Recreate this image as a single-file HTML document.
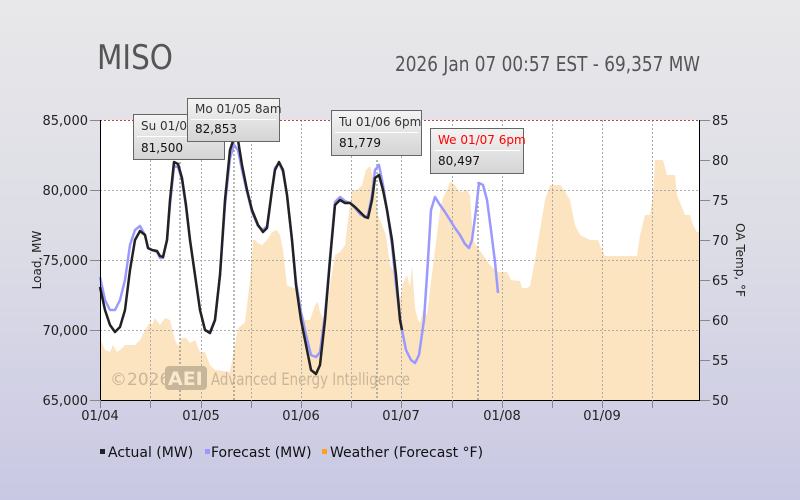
<!DOCTYPE html>
<html><head><meta charset="utf-8"><style>
html,body{margin:0;padding:0;width:800px;height:500px;overflow:hidden}
body{background:linear-gradient(#e8e8ea,#dcdce6 50%,#c9c8e4);font-family:"DejaVu Sans","Liberation Sans",sans-serif}
svg text{font-family:"DejaVu Sans","Liberation Sans",sans-serif}
</style></head><body>
<svg width="800" height="500" viewBox="0 0 800 500" xmlns="http://www.w3.org/2000/svg">
<defs>
<linearGradient id="tt" x1="0" y1="0" x2="0" y2="1"><stop offset="0" stop-color="#f4f4f4"/><stop offset="1" stop-color="#d4d4d4"/></linearGradient>
</defs>
<text x="97" y="69" font-size="34" fill="#555" textLength="76" lengthAdjust="spacingAndGlyphs">MISO</text>
<text x="395" y="71" font-size="20" fill="#555" textLength="305" lengthAdjust="spacingAndGlyphs">2026 Jan 07 00:57 EST - 69,357 MW</text>
<rect x="100" y="120" width="600" height="280" fill="#fff"/>
<polygon fill="#fde4c0" points="100,400 100,338 105,350 110,352 113,345 117,352 120,350 125,345 135,345 140,340 145,330 150,322 152,325 155,318 160,325 165,318 170,320 175,340 178,346 182,338 186,338 190,343 195,340 200,352 205,352 210,365 215,370 230,372 235,345 238,328 242,325 245,322 250,280 253,240 255,240 258,243 262,245 267,240 272,232 277,230 280,235 283,250 287,285 290,287 295,288 298,300 301,310 305,320 310,320 315,305 318,302 320,312 324,320 327,312 330,285 335,255 340,252 345,245 348,220 352,190 357,190 362,185 366,170 370,166 375,185 378,215 382,225 386,235 390,265 393,270 396,280 400,300 403,283 407,275 410,287 412,265 415,308 418,320 420,323 423,310 427,315 430,290 435,250 440,210 443,198 447,190 450,182 452,183 455,185 458,190 461,192 467,190 470,195 473,240 478,248 483,255 490,265 495,270 498,272 507,272 511,280 520,281 522,288 527,288 530,286 535,260 540,230 545,200 550,185 560,185 564,190 570,200 575,225 580,235 590,240 598,240 602,250 605,256 637,256 640,235 645,215 650,215 653,195 655,160 663,160 667,175 675,175 677,195 685,215 690,215 693,225 697,232 700,232 700,400"/>
<g stroke="#aaa" stroke-dasharray="2,2" stroke-width="1">
<line x1="100" y1="190.5" x2="700" y2="190.5"/><line x1="100" y1="260.5" x2="700" y2="260.5"/><line x1="100" y1="330.5" x2="700" y2="330.5"/>
<line x1="150.5" y1="120" x2="150.5" y2="400"/><line x1="201.5" y1="120" x2="201.5" y2="400"/><line x1="251.5" y1="120" x2="251.5" y2="400"/><line x1="301.5" y1="120" x2="301.5" y2="400"/><line x1="351.5" y1="120" x2="351.5" y2="400"/><line x1="401.5" y1="120" x2="401.5" y2="400"/><line x1="452.5" y1="120" x2="452.5" y2="400"/><line x1="502.5" y1="120" x2="502.5" y2="400"/><line x1="552.5" y1="120" x2="552.5" y2="400"/><line x1="602.5" y1="120" x2="602.5" y2="400"/><line x1="652.5" y1="120" x2="652.5" y2="400"/>
</g>
<line x1="100" y1="120.5" x2="700" y2="120.5" stroke="#b44" stroke-dasharray="2,2"/>
<g stroke="#888" stroke-dasharray="2,2" stroke-width="1.2">
<line x1="180" y1="162" x2="180" y2="400"/><line x1="234" y1="138" x2="234" y2="400"/><line x1="377" y1="160" x2="377" y2="400"/><line x1="478" y1="182" x2="478" y2="400"/>
</g>
<text x="110" y="385" font-size="17" fill="#c8b69a">©2026</text>
<rect x="165" y="366" width="42" height="24" rx="4" fill="#c8b69a"/>
<text x="168" y="385" font-size="19" fill="#fbe7cc" font-weight="bold">AEI</text>
<text x="211" y="385" font-size="17" fill="#c8b69a" textLength="199" lengthAdjust="spacingAndGlyphs">Advanced Energy Intelligence</text>
<polyline fill="none" stroke="#9999ff" stroke-width="2.5" stroke-linejoin="round" points="100,277 105,300 110,310 115,310 120,300 125,280 130,245 135,230 140,226 145,235 148,248 152,250 157,252 160,258 163,258 167,240 170,205 174,166 178,167 182,180 186,207 190,240 195,275 200,310 205,330 210,332 215,320 220,275 225,205 230,158 234,145 238,150 242,170 247,192 252,212 258,226 263,230 267,226 272,190 275,168 279,163 283,172 287,195 292,240 296,282 301,312 306,335 311,355 316,357 320,352 325,315 330,258 335,202 340,197 345,201 350,203 355,208 360,214 365,217 368,215 372,195 375,170 379,165 383,185 387,210 392,245 396,285 400,318 402,330 406,350 411,360 415,363 419,355 424,320 428,260 431,210 435,197 440,205 445,212 450,220 455,228 460,235 465,244 469,248 472,240 476,210 479,183 483,185 487,200 491,230 495,262 498,293"/>
<polyline fill="none" stroke="#222" stroke-width="2.5" stroke-linejoin="round" points="100,287 105,310 110,325 115,332 120,327 125,310 130,270 135,240 140,231 145,235 148,248 152,250 157,251 160,256 163,257 167,240 170,200 174,162 178,164 182,178 186,205 190,240 195,275 200,310 205,330 210,333 215,320 220,275 225,200 230,150 234,138 238,140 242,165 247,190 252,210 258,225 263,232 267,228 272,190 275,170 279,162 283,170 287,195 292,240 296,285 301,320 306,345 311,370 316,374 320,365 325,320 330,260 335,205 340,200 345,203 350,203 355,207 360,212 365,217 368,218 372,200 375,178 379,175 383,190 387,210 392,240 396,275 400,320 402,330"/>
<line x1="100.5" y1="120" x2="100.5" y2="400" stroke="#000"/>
<line x1="699.5" y1="120" x2="699.5" y2="400" stroke="#000"/>
<line x1="100" y1="400.5" x2="700" y2="400.5" stroke="#000"/>
<g stroke="#888">
<line x1="90" y1="120.5" x2="100" y2="120.5"/><line x1="90" y1="190.5" x2="100" y2="190.5"/><line x1="90" y1="260.5" x2="100" y2="260.5"/><line x1="90" y1="330.5" x2="100" y2="330.5"/><line x1="90" y1="400.5" x2="100" y2="400.5"/>
<line x1="700" y1="120.5" x2="710" y2="120.5"/><line x1="700" y1="160.5" x2="710" y2="160.5"/><line x1="700" y1="200.5" x2="710" y2="200.5"/><line x1="700" y1="240.5" x2="710" y2="240.5"/><line x1="700" y1="280.5" x2="710" y2="280.5"/><line x1="700" y1="320.5" x2="710" y2="320.5"/><line x1="700" y1="360.5" x2="710" y2="360.5"/><line x1="700" y1="400.5" x2="710" y2="400.5"/>
<line x1="100.5" y1="400" x2="100.5" y2="408"/><line x1="150.5" y1="400" x2="150.5" y2="408"/><line x1="201.5" y1="400" x2="201.5" y2="408"/><line x1="251.5" y1="400" x2="251.5" y2="408"/><line x1="301.5" y1="400" x2="301.5" y2="408"/><line x1="351.5" y1="400" x2="351.5" y2="408"/><line x1="401.5" y1="400" x2="401.5" y2="408"/><line x1="452.5" y1="400" x2="452.5" y2="408"/><line x1="502.5" y1="400" x2="502.5" y2="408"/><line x1="552.5" y1="400" x2="552.5" y2="408"/><line x1="602.5" y1="400" x2="602.5" y2="408"/><line x1="652.5" y1="400" x2="652.5" y2="408"/>
</g>
<g font-size="13" fill="#222" text-anchor="end">
<text x="88" y="125">85,000</text><text x="88" y="195">80,000</text><text x="88" y="265">75,000</text><text x="88" y="335">70,000</text><text x="88" y="405">65,000</text>
</g>
<g font-size="13" fill="#222">
<text x="712" y="125">85</text><text x="712" y="165">80</text><text x="712" y="205">75</text><text x="712" y="245">70</text><text x="712" y="285">65</text><text x="712" y="325">60</text><text x="712" y="365">55</text><text x="712" y="405">50</text>
</g>
<g font-size="13" fill="#222" text-anchor="middle">
<text x="100" y="420">01/04</text><text x="201" y="420">01/05</text><text x="301" y="420">01/06</text><text x="401" y="420">01/07</text><text x="502" y="420">01/08</text><text x="602" y="420">01/09</text>
</g>
<text transform="translate(41,260) rotate(-90)" font-size="12" fill="#222" text-anchor="middle">Load, MW</text>
<text transform="translate(736,260) rotate(90)" font-size="12" fill="#222" text-anchor="middle">OA Temp, °F</text>
<g font-size="12">
<rect x="133.5" y="114.5" width="91" height="45" fill="url(#tt)" stroke="#666"/>
<line x1="137" y1="136.5" x2="221" y2="136.5" stroke="#fff"/>
<text x="141" y="130" fill="#333">Su 01/04 4pm</text><text x="141" y="152" fill="#111">81,500</text>
<rect x="187.5" y="98.5" width="92" height="43" fill="url(#tt)" stroke="#666"/>
<line x1="191" y1="119.5" x2="276" y2="119.5" stroke="#fff"/>
<text x="195" y="113" fill="#333">Mo 01/05 8am</text><text x="195" y="133" fill="#111">82,853</text>
<rect x="331.5" y="110.5" width="90" height="45" fill="url(#tt)" stroke="#666"/>
<line x1="335" y1="132.5" x2="418" y2="132.5" stroke="#fff"/>
<text x="339" y="126" fill="#333">Tu 01/06 6pm</text><text x="339" y="147" fill="#111">81,779</text>
<rect x="430.5" y="128.5" width="93" height="45" fill="url(#tt)" stroke="#666"/>
<line x1="434" y1="150.5" x2="520" y2="150.5" stroke="#fff"/>
<text x="438" y="144" fill="#f00">We 01/07 6pm</text><text x="438" y="165" fill="#111">80,497</text>
</g>
<g font-size="14" fill="#111">
<rect x="100" y="449" width="5" height="5" fill="#222"/><text x="108" y="457">Actual (MW)</text>
<rect x="205" y="449" width="5" height="5" fill="#9999ff"/><text x="211" y="457">Forecast (MW)</text>
<rect x="322" y="449" width="5" height="5" fill="#ffa020"/><text x="330" y="457">Weather (Forecast °F)</text>
</g>
</svg>
</body></html>
